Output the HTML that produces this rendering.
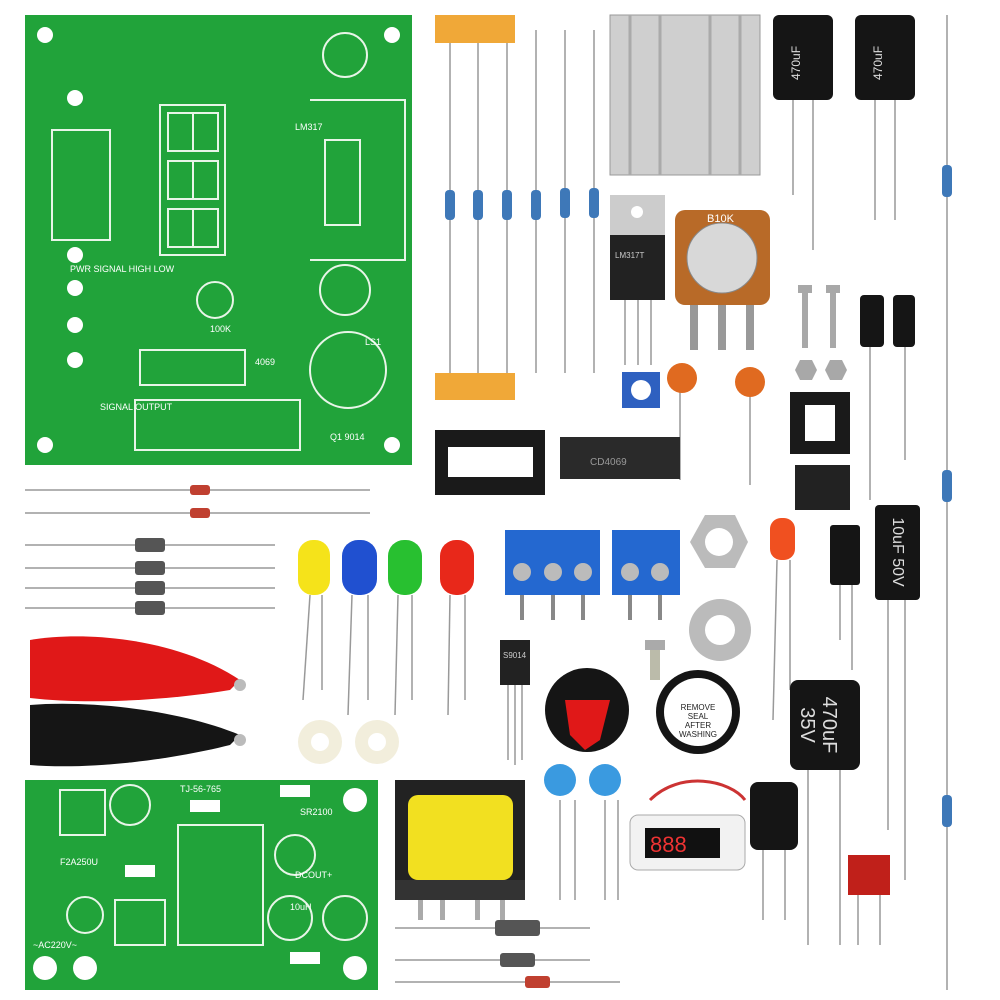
<!DOCTYPE html>
<html><head><meta charset="utf-8"><style>
html,body{margin:0;padding:0;background:#fff;}
svg{display:block;font-family:"Liberation Sans",sans-serif;}
</style></head><body>
<svg width="1000" height="1000" viewBox="0 0 1000 1000" xmlns="http://www.w3.org/2000/svg">
<rect width="1000" height="1000" fill="#fff"/>
<!-- top PCB -->
<rect x="25" y="15" width="387" height="450" fill="#21a33a"/>
<g fill="#fff"><circle cx="45" cy="35" r="8"/><circle cx="392" cy="35" r="8"/><circle cx="45" cy="445" r="8"/><circle cx="392" cy="445" r="8"/></g>
<g fill="none" stroke="#e8f5e8" stroke-width="2">
<rect x="160" y="105" width="65" height="150"/>
<rect x="168" y="113" width="50" height="38"/><line x1="193" y1="113" x2="193" y2="151"/>
<rect x="168" y="161" width="50" height="38"/><line x1="193" y1="161" x2="193" y2="199"/>
<rect x="168" y="209" width="50" height="38"/><line x1="193" y1="209" x2="193" y2="247"/>
<rect x="52" y="130" width="58" height="110"/>
<rect x="140" y="350" width="105" height="35"/>
<rect x="135" y="400" width="165" height="50"/>
<circle cx="345" cy="55" r="22"/><circle cx="345" cy="290" r="25"/><circle cx="348" cy="370" r="38"/>
<rect x="325" y="140" width="35" height="85"/>
<circle cx="215" cy="300" r="18"/>
<path d="M310 100 h95 v160 h-95"/>
</g>
<g fill="#fff" font-size="9">
<text x="70" y="272">PWR SIGNAL HIGH LOW</text>
<text x="100" y="410">SIGNAL OUTPUT</text>
<text x="210" y="332">100K</text><text x="255" y="365">4069</text>
<text x="330" y="440">Q1 9014</text><text x="365" y="345">LS1</text>
<text x="295" y="130">LM317</text>
</g>
<g fill="#fff"><circle cx="75" cy="255" r="8"/><circle cx="75" cy="288" r="8"/><circle cx="75" cy="325" r="8"/><circle cx="75" cy="360" r="8"/><circle cx="75" cy="98" r="8"/></g>
<!-- resistor tape -->
<rect x="435" y="15" width="80" height="28" fill="#f0a838"/>
<rect x="435" y="373" width="80" height="27" fill="#f0a838"/>
<g stroke="#999" stroke-width="1.5">
<line x1="450" y1="43" x2="450" y2="373"/><line x1="478" y1="43" x2="478" y2="373"/><line x1="507" y1="43" x2="507" y2="373"/>
<line x1="536" y1="30" x2="536" y2="373"/><line x1="565" y1="30" x2="565" y2="373"/><line x1="594" y1="30" x2="594" y2="373"/>
<line x1="947" y1="15" x2="947" y2="990"/>
<line x1="25" y1="490" x2="370" y2="490"/><line x1="25" y1="513" x2="370" y2="513"/>
<line x1="25" y1="545" x2="275" y2="545"/><line x1="25" y1="568" x2="275" y2="568"/><line x1="25" y1="588" x2="275" y2="588"/><line x1="25" y1="608" x2="275" y2="608"/>
<line x1="395" y1="928" x2="590" y2="928"/><line x1="395" y1="960" x2="590" y2="960"/><line x1="395" y1="982" x2="620" y2="982"/>
</g>
<g fill="#3e78b8"><rect x="445" y="190" width="10" height="30" rx="4"/><rect x="473" y="190" width="10" height="30" rx="4"/><rect x="502" y="190" width="10" height="30" rx="4"/><rect x="531" y="190" width="10" height="30" rx="4"/><rect x="560" y="188" width="10" height="30" rx="4"/><rect x="589" y="188" width="10" height="30" rx="4"/>
<rect x="942" y="165" width="10" height="32" rx="4"/><rect x="942" y="470" width="10" height="32" rx="4"/><rect x="942" y="795" width="10" height="32" rx="4"/></g>
<g fill="#555"><rect x="190" y="485" width="20" height="10" rx="3" fill="#c04030"/><rect x="190" y="508" width="20" height="10" rx="3" fill="#c04030"/>
<rect x="135" y="538" width="30" height="14" rx="3"/><rect x="135" y="561" width="30" height="14" rx="3"/><rect x="135" y="581" width="30" height="14" rx="3"/><rect x="135" y="601" width="30" height="14" rx="3"/>
<rect x="495" y="920" width="45" height="16" rx="3"/><rect x="500" y="953" width="35" height="14" rx="3"/><rect x="525" y="976" width="25" height="12" rx="3" fill="#c04030"/></g>
<!-- heatsink -->
<rect x="610" y="15" width="150" height="160" fill="#cfcfcf" stroke="#999"/>
<g stroke="#aaa" stroke-width="3"><line x1="630" y1="15" x2="630" y2="175"/><line x1="660" y1="15" x2="660" y2="175"/><line x1="710" y1="15" x2="710" y2="175"/><line x1="740" y1="15" x2="740" y2="175"/></g>
<g stroke="#999" stroke-width="1.5"><line x1="793" y1="100" x2="793" y2="195"/><line x1="813" y1="100" x2="813" y2="250"/><line x1="875" y1="100" x2="875" y2="220"/><line x1="895" y1="100" x2="895" y2="220"/>
<line x1="625" y1="300" x2="625" y2="365"/><line x1="638" y1="300" x2="638" y2="365"/><line x1="651" y1="300" x2="651" y2="365"/>
<line x1="870" y1="345" x2="870" y2="500"/><line x1="905" y1="345" x2="905" y2="460"/>
<line x1="680" y1="385" x2="680" y2="480"/><line x1="750" y1="390" x2="750" y2="485"/>
<line x1="310" y1="595" x2="303" y2="700"/><line x1="322" y1="595" x2="322" y2="690"/><line x1="352" y1="595" x2="348" y2="715"/><line x1="368" y1="595" x2="368" y2="700"/>
<line x1="398" y1="595" x2="395" y2="715"/><line x1="412" y1="595" x2="412" y2="700"/><line x1="450" y1="595" x2="448" y2="715"/><line x1="465" y1="595" x2="465" y2="700"/>
<line x1="777" y1="560" x2="773" y2="720"/><line x1="790" y1="560" x2="790" y2="690"/>
<line x1="840" y1="585" x2="840" y2="640"/><line x1="852" y1="585" x2="852" y2="670"/><line x1="888" y1="600" x2="888" y2="830"/><line x1="905" y1="600" x2="905" y2="880"/>
<line x1="508" y1="685" x2="508" y2="760"/><line x1="515" y1="685" x2="515" y2="765"/><line x1="522" y1="685" x2="522" y2="760"/>
<line x1="808" y1="770" x2="808" y2="945"/><line x1="840" y1="770" x2="840" y2="945"/>
<line x1="560" y1="800" x2="560" y2="900"/><line x1="575" y1="800" x2="575" y2="900"/><line x1="605" y1="800" x2="605" y2="900"/><line x1="618" y1="800" x2="618" y2="900"/>
<line x1="763" y1="850" x2="763" y2="920"/><line x1="785" y1="850" x2="785" y2="920"/>
<line x1="858" y1="895" x2="858" y2="945"/><line x1="880" y1="895" x2="880" y2="945"/>
</g>
<rect x="773" y="15" width="60" height="85" rx="6" fill="#151515"/>
<rect x="855" y="15" width="60" height="85" rx="6" fill="#151515"/>
<text x="800" y="80" fill="#ddd" font-size="12" transform="rotate(-90 800 80)">470uF</text>
<text x="882" y="80" fill="#ddd" font-size="12" transform="rotate(-90 882 80)">470uF</text>
<!-- LM317 -->
<rect x="610" y="195" width="55" height="40" fill="#ccc"/><circle cx="637" cy="212" r="6" fill="#fff"/>
<rect x="610" y="235" width="55" height="65" fill="#222"/>
<text x="615" y="258" fill="#ccc" font-size="8">LM317T</text>
<!-- potentiometer -->
<rect x="675" y="210" width="95" height="95" rx="10" fill="#b86a28"/>
<circle cx="722" cy="258" r="35" fill="#d8d8d8" stroke="#888"/>
<text x="707" y="222" fill="#fff" font-size="11">B10K</text>
<g fill="#999"><rect x="690" y="305" width="8" height="45"/><rect x="718" y="305" width="8" height="45"/><rect x="746" y="305" width="8" height="45"/></g>
<g fill="#a8a8a8"><rect x="798" y="285" width="14" height="8"/><rect x="802" y="293" width="6" height="55"/><rect x="826" y="285" width="14" height="8"/><rect x="830" y="293" width="6" height="55"/>
<polygon points="795,370 800,360 812,360 817,370 812,380 800,380"/><polygon points="825,370 830,360 842,360 847,370 842,380 830,380"/></g>
<rect x="860" y="295" width="24" height="52" rx="4" fill="#151515"/><rect x="893" y="295" width="22" height="52" rx="4" fill="#151515"/>
<circle cx="682" cy="378" r="15" fill="#e06a20"/><circle cx="750" cy="382" r="15" fill="#e06a20"/>
<rect x="622" y="372" width="38" height="36" fill="#2e60c0"/><circle cx="641" cy="390" r="10" fill="#fff"/>
<rect x="790" y="392" width="60" height="62" fill="#1a1a1a"/><rect x="805" y="405" width="30" height="36" fill="#fff"/>
<rect x="795" y="465" width="55" height="45" fill="#222"/>
<rect x="435" y="430" width="110" height="65" fill="#1a1a1a"/><rect x="448" y="447" width="85" height="30" fill="#fff"/>
<rect x="560" y="437" width="120" height="42" fill="#2a2a2a"/>
<text x="590" y="465" fill="#999" font-size="10">CD4069</text>
<!-- LEDs -->
<rect x="298" y="540" width="32" height="55" rx="15" fill="#f5e31a"/>
<rect x="342" y="540" width="35" height="55" rx="16" fill="#2050d0"/>
<rect x="388" y="540" width="34" height="55" rx="16" fill="#28c030"/>
<rect x="440" y="540" width="34" height="55" rx="16" fill="#e8281a"/>
<rect x="505" y="530" width="95" height="65" fill="#2468d0"/><rect x="612" y="530" width="68" height="65" fill="#2468d0"/>
<g fill="#bbb"><circle cx="522" cy="572" r="9"/><circle cx="553" cy="572" r="9"/><circle cx="583" cy="572" r="9"/><circle cx="630" cy="572" r="9"/><circle cx="660" cy="572" r="9"/></g>
<g fill="#888"><rect x="520" y="595" width="4" height="25"/><rect x="551" y="595" width="4" height="25"/><rect x="581" y="595" width="4" height="25"/><rect x="628" y="595" width="4" height="25"/><rect x="658" y="595" width="4" height="25"/></g>
<polygon points="690,542 705,515 735,515 748,542 735,568 705,568" fill="#bbb"/><circle cx="719" cy="542" r="14" fill="#fff"/>
<circle cx="720" cy="630" r="31" fill="#bbb"/><circle cx="720" cy="630" r="15" fill="#fff"/>
<rect x="770" y="518" width="25" height="42" rx="11" fill="#f05020"/>
<rect x="830" y="525" width="30" height="60" rx="3" fill="#151515"/><rect x="875" y="505" width="45" height="95" rx="4" fill="#151515"/>
<text transform="translate(893,552) rotate(90)" text-anchor="middle" fill="#ddd" font-size="16">10uF 50V</text>
<path d="M30 640 C90 630 180 640 240 680 L230 690 C170 700 90 705 30 698 Z" fill="#e01818"/>
<path d="M30 705 C90 700 180 710 240 735 L230 745 C170 760 90 770 30 765 Z" fill="#151515"/>
<circle cx="240" cy="685" r="6" fill="#bbb"/><circle cx="240" cy="740" r="6" fill="#bbb"/>
<circle cx="320" cy="742" r="22" fill="#f2eedc"/><circle cx="320" cy="742" r="9" fill="#fff"/>
<circle cx="377" cy="742" r="22" fill="#f2eedc"/><circle cx="377" cy="742" r="9" fill="#fff"/>
<rect x="500" y="640" width="30" height="45" fill="#222"/><text x="503" y="658" fill="#ccc" font-size="8">S9014</text>
<circle cx="587" cy="710" r="42" fill="#151515"/><path d="M565 700 L610 700 L600 740 L585 750 L570 735 Z" fill="#e01818"/>
<rect x="645" y="640" width="20" height="10" fill="#aaa"/><rect x="650" y="650" width="10" height="30" fill="#bba"/>
<circle cx="698" cy="712" r="42" fill="#151515"/><circle cx="698" cy="712" r="34" fill="#fff"/>
<text x="698" y="710" font-size="8" text-anchor="middle" fill="#222">REMOVE</text><text x="698" y="719" font-size="8" text-anchor="middle" fill="#222">SEAL</text><text x="698" y="728" font-size="8" text-anchor="middle" fill="#222">AFTER</text><text x="698" y="737" font-size="8" text-anchor="middle" fill="#222">WASHING</text>
<rect x="790" y="680" width="70" height="90" rx="8" fill="#151515"/>
<g transform="translate(825,725) rotate(90)" fill="#ddd" font-size="20" text-anchor="middle"><text x="0" y="2">470uF</text><text x="0" y="24">35V</text></g>
<!-- bottom PCB -->
<rect x="25" y="780" width="353" height="210" fill="#21a33a"/>
<g fill="none" stroke="#e8f5e8" stroke-width="2">
<rect x="60" y="790" width="45" height="45"/><circle cx="130" cy="805" r="20"/><rect x="178" y="825" width="85" height="120"/>
<circle cx="295" cy="855" r="20"/><circle cx="290" cy="918" r="22"/><circle cx="345" cy="918" r="22"/><circle cx="85" cy="915" r="18"/>
<rect x="115" y="900" width="50" height="45"/>
</g>
<g fill="#fff"><circle cx="45" cy="968" r="12"/><circle cx="85" cy="968" r="12"/><circle cx="355" cy="800" r="12"/><circle cx="355" cy="968" r="12"/></g>
<g fill="#fff" font-size="9"><text x="180" y="792">TJ-56-765</text><text x="60" y="865">F2A250U</text><text x="33" y="948">~AC220V~</text><text x="300" y="815">SR2100</text><text x="295" y="878">DCOUT+</text><text x="290" y="910">10uH</text></g>
<g fill="#fff"><rect x="280" y="785" width="30" height="12"/><rect x="125" y="865" width="30" height="12"/><rect x="290" y="952" width="30" height="12"/><rect x="190" y="800" width="30" height="12"/></g>
<rect x="395" y="780" width="130" height="110" fill="#222"/><rect x="408" y="795" width="105" height="85" rx="10" fill="#f2e020"/><rect x="395" y="880" width="130" height="20" fill="#333"/>
<g fill="#aaa"><rect x="418" y="900" width="5" height="20"/><rect x="440" y="900" width="5" height="20"/><rect x="475" y="900" width="5" height="20"/><rect x="500" y="900" width="5" height="20"/></g>
<circle cx="560" cy="780" r="16" fill="#3a9ae0"/><circle cx="605" cy="780" r="16" fill="#3a9ae0"/>
<path d="M650 800 C680 770 730 780 745 800" stroke="#c33" stroke-width="3" fill="none"/>
<rect x="630" y="815" width="115" height="55" rx="8" fill="#f2f2f2" stroke="#aaa"/>
<rect x="645" y="828" width="75" height="30" fill="#111"/><text x="650" y="852" fill="#e33" font-size="22">888</text>
<rect x="750" y="782" width="48" height="68" rx="8" fill="#151515"/>
<rect x="848" y="855" width="42" height="40" fill="#c0201a"/>
</svg>
</body></html>
